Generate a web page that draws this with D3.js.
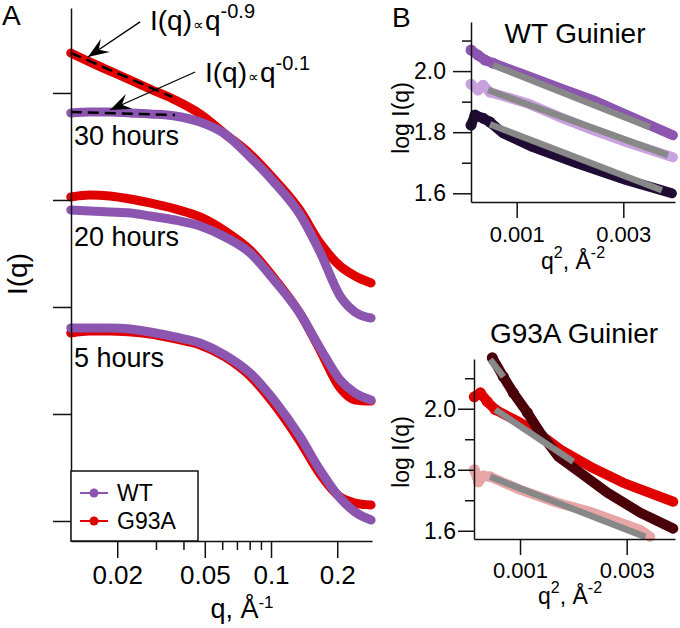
<!DOCTYPE html>
<html><head><meta charset="utf-8">
<script src="https://cdn.jsdelivr.net/npm/d3@7"></script>
<style>body{margin:0;background:#fff} svg{display:block} text{font-family:"Liberation Sans",Arial,Helvetica,sans-serif}</style>
</head><body><svg id="c" width="680" height="628"></svg>
<script>
// ---------- Panel A data (q in 1/Å, values are log10 I, arbitrary offset) ----------
const qA    = [0.0123,0.015,0.0185,0.0229,0.0282,0.0366,0.0476,0.0618,0.0803,0.104,0.135,0.167,0.206,0.241,0.285];
const g93a30 = [4.374,4.290,4.206,4.121,4.037,3.935,3.804,3.617,3.430,3.187,2.907,2.598,2.383,2.290,2.224];
const wt30   = [3.813,3.822,3.822,3.813,3.804,3.785,3.729,3.617,3.402,3.159,2.869,2.514,2.103,1.953,1.897];
const g93a20 = [3.028,3.047,3.037,3.009,2.972,2.916,2.841,2.710,2.533,2.262,1.944,1.598,1.243,1.131,1.121];
const wt20   = [2.907,2.897,2.888,2.879,2.850,2.813,2.757,2.654,2.505,2.243,1.944,1.617,1.318,1.196,1.131];
const g93a5  = [1.757,1.776,1.776,1.766,1.748,1.701,1.645,1.533,1.355,1.084,0.748,0.439,0.224,0.168,0.150];
const wt5    = [1.804,1.804,1.804,1.794,1.766,1.720,1.664,1.551,1.383,1.121,0.794,0.477,0.215,0.084,0.009];
const timeLabels = ["30 hours","20 hours","5 hours"];
const fitSteepQ = [0.0123,0.0355], fitSteepI = [4.374,3.963];
const fitFlatQ  = [0.0123,0.0366], fitFlatI  = [3.822,3.794];
const xTicksA = [0.02,0.05,0.1,0.2];
const xMinorA = [0.03,0.04,0.06,0.07,0.08,0.09];
const yTicksA = [0,1,2,3,4];
const legendNames = ["WT","G93A"];

// ---------- Panel B data (q^2 in 1/Å^2, log I) ----------
const wtG1Q = [0.000143,0.000274,0.000406,0.000556,0.001062,0.001812,0.002431,0.003068,0.003931];
const wtG1I = [2.069,2.052,2.036,2.026,1.993,1.944,1.905,1.856,1.790];
const wtG2Q = [0.000143,0.000274,0.000368,0.000499,0.001193,0.001812,0.002431,0.003068,0.003931];
const wtG2I = [1.957,1.938,1.954,1.931,1.895,1.849,1.807,1.767,1.718];
const wtG3Q = [0.000143,0.000218,0.000368,0.000499,0.000743,0.001306,0.002131,0.003068,0.003912];
const wtG3I = [1.823,1.856,1.846,1.833,1.797,1.751,1.698,1.643,1.600];
const wtFitQ = [[0.000556,0.003499],[0.000462,0.003837],[0.000499,0.003724]];
const wtFitI = [[2.020,1.816],[1.938,1.725],[1.826,1.610]];

const gG1Q = [0.000480,0.000687,0.000874,0.001137,0.001381,0.001718,0.002131,0.002637,0.003256,0.003874];
const gG1I = [2.167,2.105,2.052,1.987,1.921,1.843,1.790,1.725,1.659,1.607];
const gG2Q = [0.000143,0.000256,0.000387,0.000537,0.001006,0.001512,0.001756,0.002318,0.002937,0.003874];
const gG2I = [2.039,2.052,2.023,1.997,1.954,1.898,1.866,1.810,1.757,1.695];
const gG3Q = [0.000143,0.000220,0.000310,0.000440,0.001006,0.001700,0.002318,0.003256,0.003443];
const gG3I = [1.800,1.760,1.780,1.777,1.734,1.692,1.662,1.603,1.580];
const gFitQ = [[0.000440,0.000690],[0.000537,0.002000],[0.000440,0.003350]];
const gFitI = [[2.161,2.105],[1.997,1.826],[1.777,1.580]];

const yTicksB = [1.6,1.8,2.0];
const yMinorB = [1.7,1.9,2.1];
const xTicksB = [0.001,0.003];

// ---------- colours ----------
const cWT = "#8b55b0", cG = "#e00000";
const cWT2 = "#c8a2de", cWT3 = "#1f0b33";
const cG1 = "#4a0008", cG3 = "#e8a5a5", cFit = "#888888";
const FONT = '"Liberation Sans",Arial,Helvetica,sans-serif';

const svg = d3.select("#c");
const zip = (xs, ys) => xs.map((x,i)=>[x, ys[i]]);

// ================= Panel A =================
const xA = d3.scaleLog().domain([0.01233,0.2877]).range([71,372]);
const yA = d3.scaleLinear().domain([-0.187,4.794]).range([541,8]);
const gA = svg.append("g");

const lineA = d3.line().x(d=>xA(d[0])).y(d=>yA(d[1])).curve(d3.curveMonotoneX);
const pairs = [[g93a30,wt30],[g93a20,wt20],[g93a5,wt5]];
pairs.forEach(([gv,wv])=>{
  gA.append("path").attr("d",lineA(zip(qA,gv))).attr("fill","none").attr("stroke",cG)
    .attr("stroke-width",9).attr("stroke-linecap","round").attr("stroke-linejoin","round");
  gA.append("path").attr("d",lineA(zip(qA,wv))).attr("fill","none").attr("stroke",cWT)
    .attr("stroke-width",9).attr("stroke-linecap","round").attr("stroke-linejoin","round");
});

// dashed power-law fits
[[fitSteepQ,fitSteepI],[fitFlatQ,fitFlatI]].forEach(([fq,fi])=>{
  gA.append("path").attr("d",d3.line().x(d=>xA(d[0])).y(d=>yA(d[1]))(zip(fq,fi)))
    .attr("stroke","#000").attr("stroke-width",2.5).attr("stroke-dasharray","11,6").attr("fill","none");
});

// axes
const axYA = d3.axisLeft(yA).tickValues(yTicksA).tickSize(18).tickSizeOuter(0).tickFormat("");
const gyA = gA.append("g").attr("transform","translate(71,0)").call(axYA);
gyA.selectAll(".tick text").remove();
const axXA = d3.axisBottom(xA).tickValues(xTicksA).tickSize(17).tickSizeOuter(0).tickPadding(8)
  .tickFormat(d=>String(d));
const gxA = gA.append("g").attr("transform","translate(0,541)").call(axXA);
gxA.attr("font-size",26).attr("font-family",FONT);
const axXAm = d3.axisBottom(xA).tickValues(xMinorA).tickSize(9).tickSizeOuter(0).tickFormat("");
const gxAm = gA.append("g").attr("transform","translate(0,541)").call(axXAm);
gxAm.select(".domain").remove();
gxAm.selectAll(".tick text").remove();
gA.selectAll(".domain,.tick line").attr("stroke","#111").attr("stroke-width",1.5);

// time labels
const labelY = [145,246,367];
timeLabels.forEach((t,i)=>{
  gA.append("text").attr("x",74).attr("y",labelY[i]).attr("font-size",27).text(t);
});

// annotations with arrows
function arrow(x1,y1,x2,y2){
  gA.append("line").attr("x1",x1).attr("y1",y1).attr("x2",x2).attr("y2",y2)
    .attr("stroke","#000").attr("stroke-width",1.3);
  const a = Math.atan2(y2-y1,x2-x1), L=21, W=8, N=13;
  const pt=(u,v)=>[x2+u*Math.cos(a)-v*Math.sin(a), y2+u*Math.sin(a)+v*Math.cos(a)];
  const p=[pt(0,0),pt(-L,W),pt(-N,0),pt(-L,-W)];
  gA.append("path").attr("d","M"+p.map(q=>q.join(",")).join("L")+"Z").attr("fill","#000");
}
arrow(xA(0.0254),yA(4.664),xA(0.01472),yA(4.336));
arrow(xA(0.0452),yA(4.196),xA(0.01854),yA(3.841));

function powerLabel(x,y,exp){
  const t = gA.append("text").attr("x",x).attr("y",y).attr("font-size",28);
  t.append("tspan").text("I(q)");
  t.append("tspan").attr("font-size",15).attr("dx",1).text("∝");
  t.append("tspan").attr("dx",1).text("q");
  t.append("tspan").attr("font-size",20).attr("dy",-12).text(exp);
}
powerLabel(150,30,"-0.9");
powerLabel(205,82,"-0.1");

// axis titles
gA.append("text").attr("transform","translate(27,274) rotate(-90)").attr("text-anchor","middle")
  .attr("font-size",28).text("I(q)");
const tA = gA.append("text").attr("x",242).attr("y",618).attr("text-anchor","middle").attr("font-size",27);
tA.append("tspan").text("q, Å");
tA.append("tspan").attr("font-size",17).attr("dy",-10).text("-1");

gA.append("text").attr("x",2).attr("y",25).attr("font-size",28).text("A");

// legend
gA.append("rect").attr("x",71).attr("y",471).attr("width",127).attr("height",70)
  .attr("fill","#fff").attr("stroke","#111").attr("stroke-width",1.5);
[cWT,cG].forEach((c,i)=>{
  const yy = 493 + i*28;
  gA.append("line").attr("x1",80).attr("x2",108).attr("y1",yy).attr("y2",yy).attr("stroke",c).attr("stroke-width",2);
  gA.append("circle").attr("cx",94).attr("cy",yy).attr("r",4.5).attr("fill",c);
  gA.append("text").attr("x",117).attr("y",yy+8).attr("font-size",23).text(legendNames[i]);
});

// ================= Panel B =================
function guinier(cfg){
  const g = svg.append("g");
  const x = d3.scaleLinear().domain(cfg.xd).range(cfg.xr);
  const y = d3.scaleLinear().domain(cfg.yd).range(cfg.yr);
  const line = d3.line().x(d=>x(d[0])).y(d=>y(d[1]));
  cfg.series.forEach(s=>{
    const pts = zip(s.q,s.i);
    g.append("path").attr("d",line(pts)).attr("fill","none").attr("stroke",s.c)
      .attr("stroke-width",10).attr("stroke-linecap","round").attr("stroke-linejoin","round");
    g.selectAll(null).data(pts.slice(0,4)).enter().append("circle")
      .attr("cx",d=>x(d[0])).attr("cy",d=>y(d[1])).attr("r",5.5).attr("fill",s.c);
  });
  cfg.fits.forEach(f=>{
    g.append("path").attr("d",line(zip(f.q,f.i))).attr("fill","none").attr("stroke",cFit)
      .attr("stroke-width",6.5);
  });
  const ay = d3.axisLeft(y).tickValues(yTicksB).tickSize(cfg.tick).tickSizeOuter(0).tickPadding(cfg.pad)
    .tickFormat(d3.format(".1f"));
  const gy = g.append("g").attr("transform",`translate(${cfg.xr[0]},0)`).call(ay);
  gy.attr("font-size",23).attr("font-family",FONT);
  gy.selectAll(".tick text").attr("fill","#000");
  const gym = g.append("g").attr("transform",`translate(${cfg.xr[0]},0)`)
    .call(d3.axisLeft(y).tickValues(yMinorB).tickSize(9).tickSizeOuter(0).tickFormat(""));
  gym.select(".domain").remove();
  gym.selectAll(".tick text").remove();
  const ax = d3.axisBottom(x).tickValues(xTicksB).tickSize(16).tickSizeOuter(0).tickPadding(cfg.xpad)
    .tickFormat(d3.format(".3f"));
  const gx = g.append("g").attr("transform",`translate(0,${cfg.yr[0]})`).call(ax);
  gx.attr("font-size",22).attr("font-family",FONT);
  g.selectAll(".domain,.tick line").attr("stroke","#111").attr("stroke-width",1.5);
  // titles
  g.append("text").attr("x",cfg.title[0]).attr("y",cfg.title[1]).attr("text-anchor","middle")
    .attr("font-size",28).text(cfg.title[2]);
  g.append("text").attr("transform",`translate(409,${cfg.ylab}) rotate(-90)`).attr("text-anchor","middle")
    .attr("font-size",23).text("log I(q)");
  const xt = g.append("text").attr("x",cfg.xlab[0]).attr("y",cfg.xlab[1]).attr("text-anchor","middle").attr("font-size",23);
  xt.append("tspan").text("q");
  xt.append("tspan").attr("font-size",16).attr("dy",-11).text("2");
  xt.append("tspan").attr("dy",11).text(", Å");
  xt.append("tspan").attr("font-size",16).attr("dy",-11).text("-2");
}

guinier({
  xd:[0.000143,0.00397], xr:[471,675], yd:[1.5715,2.1607], yr:[202,22],
  tick:18, pad:7, xpad:8,
  series:[{q:wtG1Q,i:wtG1I,c:cWT},{q:wtG2Q,i:wtG2I,c:cWT2},{q:wtG3Q,i:wtG3I,c:cWT3}],
  fits:wtFitQ.map((q,k)=>({q:q,i:wtFitI[k]})),
  title:[575,43,"WT Guinier"], ylab:118, xlab:[573,269]
});
guinier({
  xd:[0.000137,0.003906], xr:[474,675], yd:[1.573,2.163], yr:[539,359],
  tick:16, pad:2, xpad:7,
  series:[{q:gG3Q,i:gG3I,c:cG3},{q:gG2Q,i:gG2I,c:cG},{q:gG1Q,i:gG1I,c:cG1}],
  fits:gFitQ.map((q,k)=>({q:q,i:gFitI[k]})),
  title:[574,343,"G93A Guinier"], ylab:452, xlab:[570,604]
});
svg.append("text").attr("x",392).attr("y",27).attr("font-size",28).text("B");
</script></body></html>
